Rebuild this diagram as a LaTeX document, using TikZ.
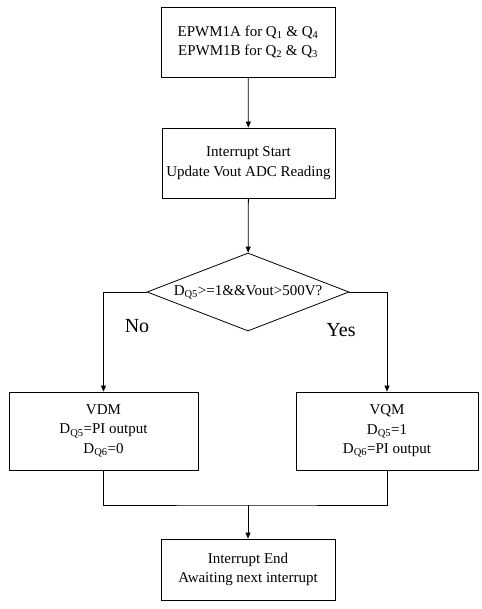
\documentclass[tikz,border=0pt]{standalone}
\usepackage{fontspec}
\setmainfont{Liberation Serif}
\usepackage{tikz}
\usetikzlibrary{shapes,arrows,positioning,calc,arrows.meta}

\begin{document}
\begin{tikzpicture}[x=1pt,y=-1pt,line width=0.8pt,
    box/.style={draw,rectangle,align=center,inner sep=2pt,font=\fontsize{15}{19.5}\selectfont},
    decision/.style={draw,diamond,aspect=2.6,inner sep=0pt,minimum width=202pt,minimum height=78pt,font=\fontsize{15}{17}\selectfont},
    lbl/.style={font=\fontsize{20}{24}\selectfont},
    arr/.style={-{Triangle[length=6pt,width=5pt]}}]
    \useasboundingbox (0,0) rectangle (481,609);

    % top boxes
    \node[box,minimum width=174pt,minimum height=70pt] (pwm) at (248,42) {EPWM1A for Q\textsubscript{1} \& Q\textsubscript{4}\\EPWM1B for Q\textsubscript{2} \& Q\textsubscript{3}};
    \node[box,minimum width=173pt,minimum height=70pt] (isr) at (248.5,163) {Interrupt Start\\Update Vout ADC Reading};
    \draw[arr] (pwm) -- (isr);

    % decision
    \node[decision] (dec) at (248,292) {D\textsubscript{Q5}>=1\&\&Vout>500V?};
    \draw[arr] (isr) -- (dec);

    % the two modes
    \node[box,minimum width=189pt,minimum height=78pt] (vdm) at (103.5,431) {VDM\\D\textsubscript{Q5}=PI output\\D\textsubscript{Q6}=0};
    \node[box,minimum width=182pt,minimum height=78pt] (vqm) at (387,431) {VQM\\D\textsubscript{Q5}=1\\D\textsubscript{Q6}=PI output};
    \draw[arr] (dec.west) -| (vdm.north);
    \draw[arr] (dec.east) -| (vqm.north);
    \node[lbl] (lblno) at (137,326) {No};
    \node[lbl] (lblyes) at (341,330) {Yes};

    % merge and end
    \node[box,minimum width=174pt,minimum height=61pt] (fin) at (248,569.5) {Interrupt End\\Awaiting next interrupt};
    \coordinate (mrg) at (248,505);
    \draw (vdm.south) |- (mrg) -| (vqm.south);
    \draw[arr] (mrg) -- (fin);
\end{tikzpicture}
\end{document}
